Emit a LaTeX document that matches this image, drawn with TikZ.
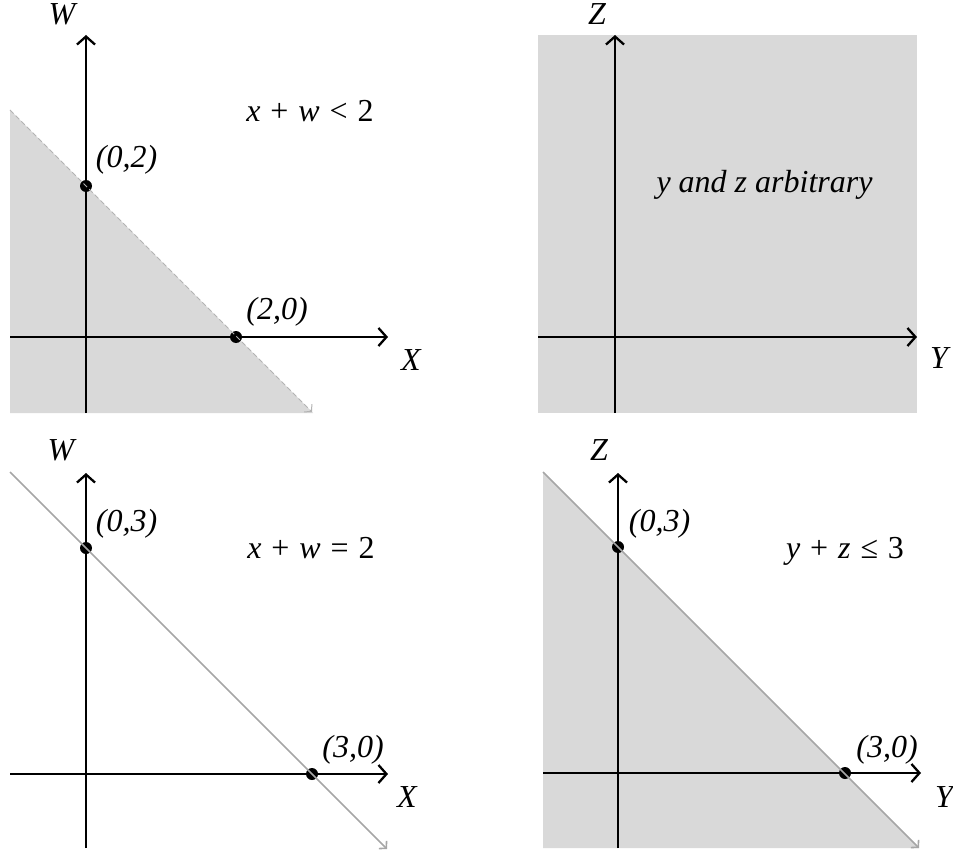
\documentclass[tikz,border=0pt]{standalone}
\usepackage{fontspec}
\setmainfont{Liberation Serif}
\usetikzlibrary{arrows.meta}
\definecolor{regiongray}{HTML}{D9D9D9}
\definecolor{bound}{HTML}{A6A6A6}
\newcommand{\gapsp}{\hspace{0.31em}}
\begin{document}
\begin{tikzpicture}[x=1pt,y=-1pt,
  axis/.style={line width=2.3pt, -{Straight Barb[length=8pt,width=18pt]}},
  bline/.style={bound, line width=1.6pt, -{Straight Barb[length=5pt,width=11pt]}},
  dline/.style={bound!85, line width=1pt, dash pattern=on 5pt off 3pt, -{Straight Barb[length=5pt,width=11pt]}},
  lab/.style={font=\fontsize{32}{38}\selectfont\itshape, anchor=base, inner sep=0pt},
  eq/.style={font=\fontsize{32}{38}\selectfont, anchor=base, inner sep=0pt},
  dot/.style={circle, fill=black, inner sep=0pt, minimum size=12pt}]
\useasboundingbox (0,0) rectangle (953,853);

% ---------- Panel 1 (top left) ----------
\fill[regiongray] (10,110) -- (10,413) -- (313,413) -- cycle;
\coordinate (a1l) at (10,337); \coordinate (a1r) at (388,337);
\coordinate (a1b) at (86,413); \coordinate (a1t) at (86,35);
\draw[axis] (a1l) -- (a1r);
\draw[axis] (a1b) -- (a1t);
\node[dot] (p1a) at (86,186) {};
\node[dot] (p1b) at (236,337) {};
\coordinate (d1s) at (10,110); \coordinate (d1e) at (312,412);
\draw[dline] (d1s) -- (d1e);
\node[lab] (w1) at (62,25) {W};
\node[lab] (x1) at (411,370) {X};
\node[lab] (l1a) at (126.5,167.5) {(0,2)};
\node[lab] (l1b) at (277,319.5) {(2,0)};
\node[eq] (e1) at (310,122) {\textit{x}\gapsp+\gapsp\textit{w}\gapsp<\gapsp2};

% ---------- Panel 2 (top right) ----------
\fill[regiongray] (538,35) rectangle (917,413);
\coordinate (a2l) at (538,337); \coordinate (a2r) at (917,337);
\coordinate (a2b) at (615,413); \coordinate (a2t) at (615,35);
\draw[axis] (a2l) -- (a2r);
\draw[axis] (a2b) -- (a2t);
\node[lab] (z2) at (597,25) {Z};
\node[lab] (y2) at (939,368) {Y};
\node[lab] (t2) at (764.5,193) {y and z arbitrary};

% ---------- Panel 3 (bottom left) ----------
\coordinate (a3l) at (10,774); \coordinate (a3r) at (388,774);
\coordinate (a3b) at (86,848); \coordinate (a3t) at (86,473);
\draw[axis] (a3l) -- (a3r);
\draw[axis] (a3b) -- (a3t);
\node[dot] (p3a) at (86,548) {};
\node[dot] (p3b) at (312,774) {};
\coordinate (d3s) at (10,472); \coordinate (d3e) at (387,849);
\draw[bline] (d3s) -- (d3e);
\node[lab] (w3) at (61,460) {W};
\node[lab] (x3) at (407,807) {X};
\node[lab] (l3a) at (126.5,531.5) {(0,3)};
\node[lab] (l3b) at (353,757.5) {(3,0)};
\node[eq] (e3) at (311,558) {\textit{x}\gapsp+\gapsp\textit{w}\gapsp=\gapsp2};

% ---------- Panel 4 (bottom right) ----------
\fill[regiongray] (543,472) -- (543,848) -- (919,848) -- cycle;
\coordinate (a4l) at (543,773); \coordinate (a4r) at (921,773);
\coordinate (a4b) at (618,848); \coordinate (a4t) at (618,473);
\draw[axis] (a4l) -- (a4r);
\draw[axis] (a4b) -- (a4t);
\node[dot] (p4a) at (618,547) {};
\node[dot] (p4b) at (845,773) {};
\coordinate (d4s) at (543,472); \coordinate (d4e) at (919,848);
\draw[bline] (d4s) -- (d4e);
\node[lab] (z4) at (599,460) {Z};
\node[lab] (y4) at (944,807) {Y};
\node[lab] (l4a) at (659.5,531.5) {(0,3)};
\node[lab] (l4b) at (887,757.5) {(3,0)};
\node[eq] (e4) at (845,558) {\textit{y}\gapsp+\gapsp\textit{z}\gapsp≤\gapsp3};
\end{tikzpicture}
\end{document}
